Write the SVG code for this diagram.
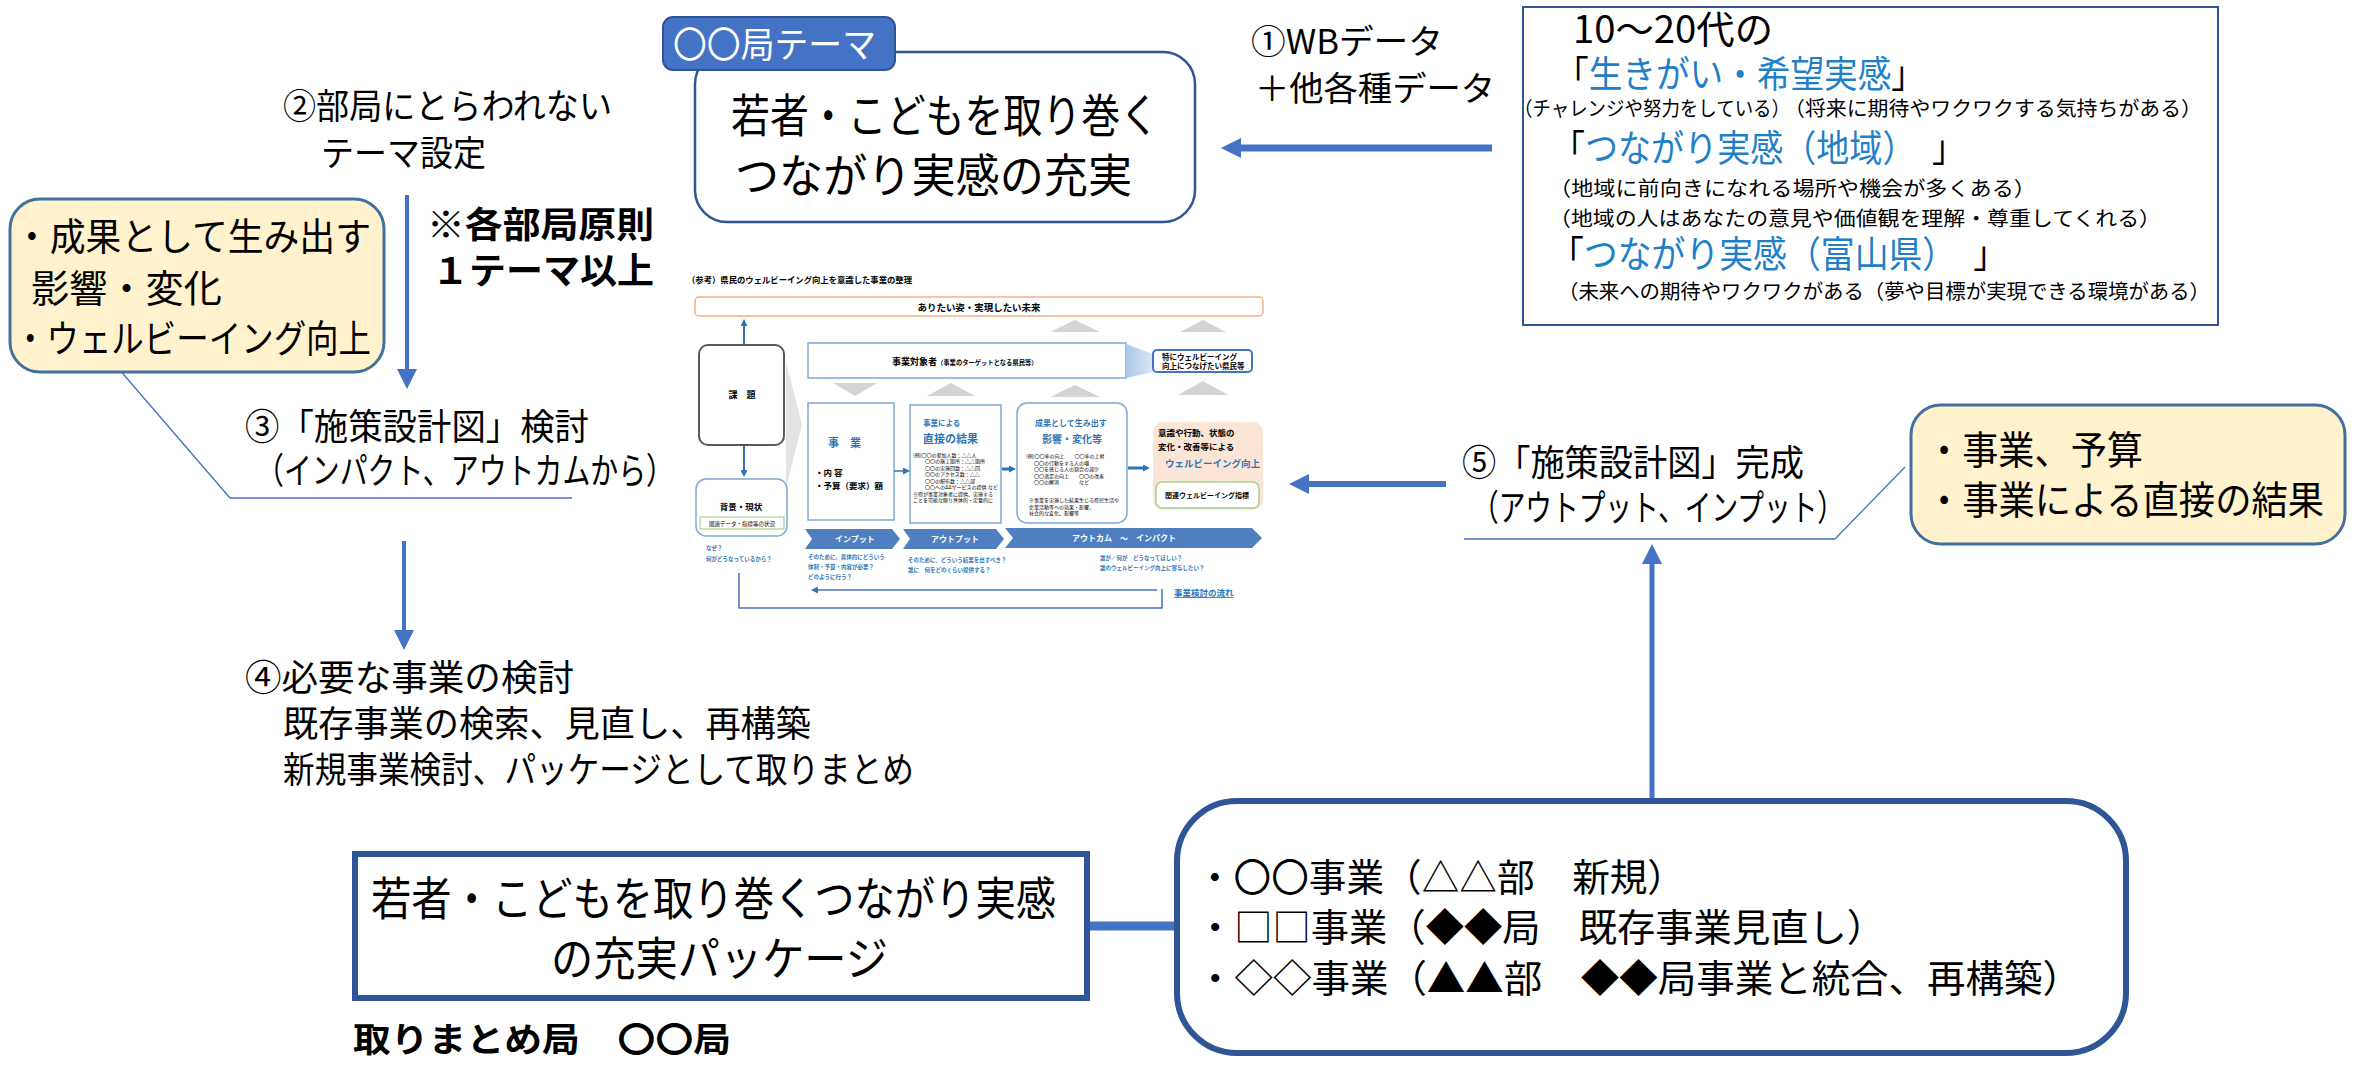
<svg xmlns="http://www.w3.org/2000/svg" width="2357" height="1067" viewBox="0 0 2357 1067">
<defs>
<style>
text { font-family: "Noto Sans CJK JP", "Noto Sans", sans-serif; fill: #000; }
.b { font-weight: bold; }
.blue { fill: #1F80C8; }
.fblue { fill: #2E75B6; font-weight: bold; }
.w { fill: #fff; font-weight: bold; }
.conn { stroke: #4472C4; fill: none; }
.thin { stroke: #4472C4; stroke-width: 1.3; fill: none; }
.fbox { fill: #fff; stroke: #7DA7D9; stroke-width: 1.5; }
.tri { fill: #D4D4D4; }
.chev { fill: #4F7FC0; }
.sm { font-size: 5px; }
</style>
<marker id="ah" viewBox="0 0 10 10" refX="0" refY="5" markerWidth="20" markerHeight="20" markerUnits="userSpaceOnUse" orient="auto">
<path d="M0,0 L10,5 L0,10 z" fill="#4472C4"/>
</marker>
<marker id="ahs" viewBox="0 0 10 10" refX="0" refY="5" markerWidth="7" markerHeight="7" markerUnits="userSpaceOnUse" orient="auto">
<path d="M0,0 L10,5 L0,10 z" fill="#2E75B6"/>
</marker>
<linearGradient id="fun" x1="0" y1="0" x2="1" y2="0">
<stop offset="0" stop-color="#A9C6E8"/>
<stop offset="1" stop-color="#DCE7F5"/>
</linearGradient>
</defs>
<rect width="2357" height="1067" fill="#fff"/>

<g id="connectors">
<line class="conn" x1="1492" y1="148" x2="1241" y2="148" stroke-width="7" marker-end="url(#ah)"/>
<line class="conn" x1="1446" y1="484" x2="1309" y2="484" stroke-width="6" marker-end="url(#ah)"/>
<line class="conn" x1="407" y1="195" x2="407" y2="369" stroke-width="4" marker-end="url(#ah)"/>
<line class="conn" x1="404" y1="541" x2="404" y2="630" stroke-width="4" marker-end="url(#ah)"/>
<line class="conn" x1="1652" y1="800" x2="1652" y2="564" stroke-width="5" marker-end="url(#ah)"/>
<line class="conn" x1="1087" y1="926" x2="1178" y2="926" stroke-width="9"/>
<polyline class="thin" points="118,368 230,498 572,498"/>
<polyline class="thin" points="1464,539 1835,539 1905,467"/>
</g>

<g id="theme-box">
<rect x="695" y="52" width="500" height="170" rx="32" fill="#fff" stroke="#2F5597" stroke-width="2.5"/>
<text x="731" y="132" font-size="46" textLength="428" lengthAdjust="spacingAndGlyphs">若者・こどもを取り巻く</text>
<text x="735" y="192" font-size="46" textLength="397" lengthAdjust="spacingAndGlyphs">つながり実感の充実</text>
</g>
<g id="theme-tab">
<rect x="663" y="17" width="232" height="53" rx="10" fill="#4472C4" stroke="#2F5597" stroke-width="2"/>
<text x="673" y="58" font-size="36" class="w" style="font-weight:normal" textLength="203" lengthAdjust="spacingAndGlyphs">〇〇局テーマ</text>
</g>

<g id="wb-label">
<text x="1251" y="54" font-size="34" textLength="192" lengthAdjust="spacingAndGlyphs">①WBデータ</text>
<text x="1255" y="101" font-size="34" textLength="240" lengthAdjust="spacingAndGlyphs">＋他各種データ</text>
</g>

<g id="data-box">
<rect x="1523" y="7" width="695" height="318" fill="#fff" stroke="#2F5597" stroke-width="2"/>
<text x="1573" y="43" font-size="38" textLength="200" lengthAdjust="spacingAndGlyphs">10～20代の</text>
<text x="1555" y="88" font-size="37" textLength="370" lengthAdjust="spacingAndGlyphs">「<tspan class="blue">生きがい・希望実感</tspan>」</text>
<text x="1514" y="116" font-size="20" textLength="276" lengthAdjust="spacingAndGlyphs">（チャレンジや努力をしている）</text>
<text x="1784" y="116" font-size="20" textLength="418" lengthAdjust="spacingAndGlyphs">（将来に期待やワクワクする気持ちがある）</text>
<text x="1552" y="162" font-size="37" textLength="413" lengthAdjust="spacingAndGlyphs">「<tspan class="blue">つながり実感（地域）</tspan>　」</text>
<text x="1549" y="196" font-size="20" textLength="487" lengthAdjust="spacingAndGlyphs">（地域に前向きになれる場所や機会が多くある）</text>
<text x="1549" y="226" font-size="20" textLength="612" lengthAdjust="spacingAndGlyphs">（地域の人はあなたの意見や価値観を理解・尊重してくれる）</text>
<text x="1550" y="268" font-size="37" textLength="457" lengthAdjust="spacingAndGlyphs">「<tspan class="blue">つながり実感（富山県）</tspan>　」</text>
<text x="1558" y="299" font-size="20" textLength="652" lengthAdjust="spacingAndGlyphs">（未来への期待やワクワクがある（夢や目標が実現できる環境がある）</text>
</g>

<g id="step2">
<text x="283" y="119" font-size="35" textLength="329" lengthAdjust="spacingAndGlyphs">②部局にとらわれない</text>
<text x="321" y="166" font-size="35" textLength="165" lengthAdjust="spacingAndGlyphs">テーマ設定</text>
</g>
<g id="rule-note">
<text x="427" y="238" font-size="36" class="b" textLength="227" lengthAdjust="spacingAndGlyphs">※各部局原則</text>
<text x="432" y="284" font-size="36" class="b" textLength="222" lengthAdjust="spacingAndGlyphs">１テーマ以上</text>
</g>

<g id="outcome-box">
<rect x="10" y="199" width="374" height="173" rx="30" fill="#FFF2CC" stroke="#41719C" stroke-width="3"/>
<text x="14" y="250" font-size="38" textLength="357" lengthAdjust="spacingAndGlyphs">・成果として生み出す</text>
<text x="31" y="302" font-size="38" textLength="191" lengthAdjust="spacingAndGlyphs">影響・変化</text>
<text x="14" y="352" font-size="38" textLength="357" lengthAdjust="spacingAndGlyphs">・ウェルビーイング向上</text>
</g>

<g id="step3">
<text x="245" y="440" font-size="36" textLength="344" lengthAdjust="spacingAndGlyphs">③「施策設計図」検討</text>
<text x="256" y="484" font-size="36" textLength="418" lengthAdjust="spacingAndGlyphs">（インパクト、アウトカムから）</text>
</g>

<g id="step4">
<text x="245" y="691" font-size="36" textLength="329" lengthAdjust="spacingAndGlyphs">④必要な事業の検討</text>
<text x="283" y="737" font-size="36" textLength="528" lengthAdjust="spacingAndGlyphs">既存事業の検索、見直し、再構築</text>
<text x="283" y="783" font-size="36" textLength="631" lengthAdjust="spacingAndGlyphs">新規事業検討、パッケージとして取りまとめ</text>
</g>

<g id="package-box">
<rect x="355" y="854" width="732" height="144" fill="#fff" stroke="#2F5597" stroke-width="6"/>
<text x="371" y="915" font-size="46" textLength="685" lengthAdjust="spacingAndGlyphs">若者・こどもを取り巻くつながり実感</text>
<text x="551" y="975" font-size="46" textLength="337" lengthAdjust="spacingAndGlyphs">の充実パッケージ</text>
</g>
<g id="lead-dept">
<text x="353" y="1052" font-size="34" class="b" textLength="378" lengthAdjust="spacingAndGlyphs">取りまとめ局　〇〇局</text>
</g>

<g id="projects-box">
<rect x="1177" y="801" width="949" height="252" rx="60" fill="#fff" stroke="#2F5597" stroke-width="6"/>
<text x="1196" y="891" font-size="38" textLength="489" lengthAdjust="spacingAndGlyphs">・〇〇事業（△△部　新規）</text>
<text x="1196" y="941" font-size="38" textLength="689" lengthAdjust="spacingAndGlyphs">・□□事業（◆◆局　既存事業見直し）</text>
<text x="1196" y="992" font-size="38" textLength="885" lengthAdjust="spacingAndGlyphs">・◇◇事業（▲▲部　◆◆局事業と統合、再構築）</text>
</g>

<g id="step5">
<text x="1462" y="476" font-size="36" textLength="342" lengthAdjust="spacingAndGlyphs">⑤「施策設計図」完成</text>
<text x="1472" y="521" font-size="36" textLength="372" lengthAdjust="spacingAndGlyphs">（アウトプット、インプット）</text>
</g>

<g id="output-box">
<rect x="1911" y="405" width="434" height="139" rx="30" fill="#FFF2CC" stroke="#41719C" stroke-width="3"/>
<text x="1926" y="464" font-size="39" textLength="217" lengthAdjust="spacingAndGlyphs">・事業、予算</text>
<text x="1926" y="514" font-size="39" textLength="398" lengthAdjust="spacingAndGlyphs">・事業による直接の結果</text>
</g>

<g id="reference-figure">
<text x="687" y="283" font-size="8.5" class="b" textLength="225" lengthAdjust="spacingAndGlyphs">（参考）県民のウェルビーイング向上を意識した事業の整理</text>
<rect x="695" y="297" width="568" height="19" rx="4" fill="#fff" stroke="#F4B183" stroke-width="1.5"/>
<text x="979" y="311" font-size="9.5" class="b" text-anchor="middle" textLength="123" lengthAdjust="spacingAndGlyphs">ありたい姿・実現したい未来</text>

<polygon class="tri" points="1050,332 1075,320 1100,332"/>
<polygon class="tri" points="1180,332 1203,320 1226,332"/>
<polygon class="tri" points="833,383 877,383 855,396"/>
<polygon class="tri" points="927,396 951,383 975,396"/>
<polygon class="tri" points="1050,397 1075,385 1100,397"/>
<polygon class="tri" points="1178,395 1203,381 1228,395"/>
<polygon fill="#E3E3E3" points="786,362 802,425 786,488"/>

<line x1="744" y1="345" x2="744" y2="326" stroke="#3A6FB7" stroke-width="2" marker-end="url(#ahs)"/>
<line x1="744" y1="445" x2="744" y2="470" stroke="#3A6FB7" stroke-width="2" marker-end="url(#ahs)"/>
<rect x="699" y="345" width="85" height="100" rx="9" fill="#fff" stroke="#595959" stroke-width="2"/>
<text x="742" y="398" font-size="9" class="b" text-anchor="middle">課　題</text>

<rect class="fbox" x="808" y="343" width="318" height="35"/>
<text x="892" y="365" font-size="9" class="b">事業対象者<tspan font-size="6.3">（事業のターゲットとなる県民等）</tspan></text>
<polygon fill="url(#fun)" points="1126,344 1153,354 1153,372 1126,378"/>
<rect x="1153" y="350" width="99" height="22" rx="4" fill="#fff" stroke="#4472C4" stroke-width="2"/>
<text x="1162" y="359.5" font-size="7.5" class="b">特にウェルビーイング</text>
<text x="1162" y="368.5" font-size="7.5" class="b">向上につなげたい県民等</text>

<rect class="fbox" x="808" y="403" width="86" height="117"/>
<text x="828" y="447" font-size="11" class="fblue">事　業</text>
<text x="815" y="476" font-size="8.5" class="b">・内 容</text>
<text x="815" y="489" font-size="8.5" class="b">・予算（要求）額</text>

<rect class="fbox" x="910" y="405" width="91" height="118"/>
<text x="923" y="426" font-size="7.5" class="fblue">事業による</text>
<text x="923" y="443" font-size="11" class="fblue">直接の結果</text>
<text class="sm" x="913" y="457">(例)〇〇の参加人数：△△人</text>
<text class="sm" x="925" y="463">〇〇の施工箇所：△△箇所</text>
<text class="sm" x="925" y="469.5">〇〇の実施回数：△△回</text>
<text class="sm" x="925" y="476">〇〇のアクセス数：△△</text>
<text class="sm" x="925" y="482.5">〇〇の配布数：△△部</text>
<text class="sm" x="925" y="489">〇〇へのΔΔサービスの提供 など</text>
<text class="sm" x="913" y="495.5">※県が事業対象者に提供、実施する</text>
<text class="sm" x="913" y="502">ことを可能な限り具体的・定量的に</text>

<rect class="fbox" x="1017" y="403" width="110" height="120" rx="10"/>
<text x="1035" y="426" font-size="8" class="fblue">成果として生み出す</text>
<text x="1042" y="443" font-size="10" class="fblue">影響・変化等</text>
<text class="sm" x="1026" y="458">(例)〇〇率の向上　　〇〇率の上昇</text>
<text class="sm" x="1034" y="464.5">〇〇の行動をする人の増</text>
<text class="sm" x="1034" y="471">〇〇を感じる人の割合の減少</text>
<text class="sm" x="1034" y="477.5">〇〇満足の向上　　〇〇の改善</text>
<text class="sm" x="1034" y="484">〇〇の解消　　　　など</text>
<text class="sm" x="1029" y="502">※事業を実施した結果生じる県民生活や</text>
<text class="sm" x="1029" y="508.5">企業活動等への効果・影響、</text>
<text class="sm" x="1029" y="515">社会的な変化、影響等</text>

<rect x="1153" y="422" width="110" height="88" rx="10" fill="#FBE5D6"/>
<text x="1158" y="436" font-size="8.5" class="b">意識や行動、状態の</text>
<text x="1158" y="450" font-size="8.5" class="b">変化・改善等による</text>
<text x="1165" y="467" font-size="9.5" class="fblue">ウェルビーイング向上</text>
<rect x="1156" y="482" width="103" height="26" rx="6" fill="#fff" stroke="#A9D18E" stroke-width="1.5"/>
<text x="1207" y="498" font-size="7" class="b" text-anchor="middle">関連ウェルビーイング指標</text>

<line x1="894" y1="471" x2="903" y2="471" stroke="#2E75B6" stroke-width="1.5" marker-end="url(#ahs)"/>
<line x1="1002" y1="469" x2="1009" y2="469" stroke="#2E75B6" stroke-width="3" marker-end="url(#ahs)"/>
<line x1="1128" y1="468" x2="1143" y2="468" stroke="#2E75B6" stroke-width="3" marker-end="url(#ahs)"/>

<rect class="fbox" x="696" y="479" width="91" height="57" rx="10"/>
<text x="741" y="510" font-size="8.5" class="b" text-anchor="middle">背景・現状</text>
<rect x="700" y="517" width="84" height="12" fill="#fff" stroke="#A9D18E" stroke-width="1.2"/>
<text x="742" y="525.5" font-size="5.5" text-anchor="middle">関連データ・指標等の状況</text>

<polygon class="chev" points="805,529 892,529 900,539 892,549 805,549 812,539"/>
<text x="855" y="542" font-size="8" class="w" text-anchor="middle">インプット</text>
<polygon class="chev" points="903,529 996,529 1004,539 996,549 903,549 910,539"/>
<text x="955" y="542" font-size="8" class="w" text-anchor="middle">アウトプット</text>
<polygon class="chev" points="1005,528 1252,528 1262,538 1252,548 1005,548 1013,538"/>
<text x="1124" y="541" font-size="8" class="w" text-anchor="middle">アウトカム　～　インパクト</text>

<text x="706" y="550" font-size="5.5" class="fblue">なぜ？</text>
<text x="706" y="561" font-size="5.5" class="fblue">何がどうなっているから？</text>
<text x="808" y="559" font-size="5.5" class="fblue">そのために、具体的にどういう</text>
<text x="808" y="569" font-size="5.5" class="fblue">体制・予算・内容が必要？</text>
<text x="808" y="579" font-size="5.5" class="fblue">どのように行う？</text>
<text x="908" y="562" font-size="5.5" class="fblue">そのために、どういう結果を出すべき？</text>
<text x="908" y="572" font-size="5.5" class="fblue">誰に　何をどのくらい提供する？</text>
<text x="1100" y="560" font-size="5.5" class="fblue">誰が／何が　どうなってほしい？</text>
<text x="1100" y="570" font-size="5.5" class="fblue">誰のウェルビーイング向上に寄与したい？</text>

<polyline points="739,573 739,608 1162,608 1162,589" fill="none" stroke="#4472C4" stroke-width="1.5"/>
<line x1="1157" y1="590" x2="818" y2="590" stroke="#4472C4" stroke-width="1.5" marker-end="url(#ahs)"/>
<text x="1174" y="596" font-size="8.5" class="fblue" text-decoration="underline">事業検討の流れ</text>
</g>
</svg>
